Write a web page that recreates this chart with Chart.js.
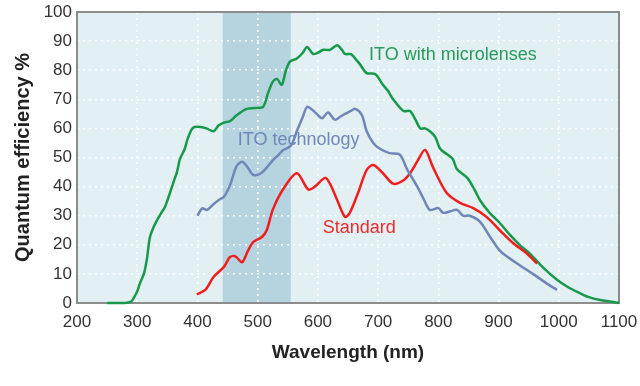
<!DOCTYPE html>
<html>
<head>
<meta charset="utf-8">
<script src="https://cdn.jsdelivr.net/npm/chart.js@4"></script>
<style>
  html, body { margin: 0; padding: 0; background: #fff; }
  #wrap { width: 640px; height: 386px; }
</style>
</head>
<body>
<div id="wrap"><canvas id="qe"></canvas></div>
<script>
// wavelength (nm) / quantum efficiency (%)
const microWl = [250, 280, 290, 295, 300, 305, 311, 316, 321, 327, 333, 340, 346, 353, 361, 366, 371, 379, 383, 390, 395, 405, 415, 427, 435, 444, 454, 465, 475, 482, 495, 509, 517, 525, 532, 540, 547, 554, 565, 575, 582, 592, 600, 609, 620, 632, 640, 645, 655, 662, 670, 681, 695, 708, 716, 725, 742, 753, 762, 770, 778, 786, 795, 803, 815, 824, 831, 848, 860, 869, 885, 902, 919, 935, 952, 975, 997, 1015, 1035, 1050, 1069, 1085, 1100];
const microQe = [0, 0, 0.5, 2, 4, 7, 10, 15, 22.5, 26, 28.5, 31, 33, 37, 42, 45, 49.5, 53, 56, 59.5, 60.5, 60.5, 60, 59, 61, 62, 62.5, 64.5, 66, 66.7, 67, 67.4, 72, 76, 77, 75, 80, 83, 84, 86, 88, 85.6, 86, 87, 87, 88.6, 87, 85.6, 85.5, 84, 82, 79, 78.7, 75, 73, 70, 66, 66, 63, 60, 60, 59, 57, 53, 51, 49.5, 46, 43, 39, 35.4, 31, 27.5, 23.4, 20, 17, 12, 8, 5.5, 3.4, 2, 1, 0.5, 0];

const itoWl = [400, 408, 416, 427, 436, 444, 454, 465, 474, 482, 493, 505, 515, 525, 535, 542, 555, 565, 575, 582, 590, 598, 607, 617, 628, 637, 645, 655, 662, 673, 681, 692, 703, 719, 736, 748, 765, 775, 786, 800, 808, 820, 831, 841, 852, 869, 885, 902, 914, 935, 957, 978, 997];
const itoQe = [30, 32.5, 32, 34, 35.5, 36.5, 40.5, 47, 48.5, 47, 44, 44.5, 46.5, 49, 51, 52.5, 54, 59, 64, 67.4, 66.5, 65, 63.5, 65.5, 63, 64, 65, 66, 66.7, 64.6, 59, 55, 53, 51.5, 51, 46, 40, 36, 32, 32.6, 31, 31.5, 32, 30, 30, 28, 23, 18, 16, 13, 10, 7, 4.5];

const stdWl = [399, 413, 427, 444, 454, 463, 474, 484, 493, 507, 515, 525, 542, 565, 584, 595, 612, 620, 632, 645, 653, 667, 681, 692, 708, 725, 741, 753, 766, 778, 791, 814, 836, 858, 880, 902, 924, 947, 964];
const stdQe = [3, 4.5, 9, 12.4, 15.8, 16, 14, 18, 21, 22.7, 25, 32, 39, 44.6, 39, 40, 43, 41, 35.4, 29.6, 31, 38, 45.7, 47.4, 44.6, 41, 42, 44.6, 49, 52.6, 46.7, 37.8, 34.4, 32.6, 29.6, 25, 20.6, 17, 13.5];

const xTicks = [200, 300, 400, 500, 600, 700, 800, 900, 1000, 1100];
const yTicks = [0, 10, 20, 30, 40, 50, 60, 70, 80, 90, 100];
const band = [442, 555];

const curveLabels = [
  { text: "ITO with microlenses", x: 685, y: 85.2, color: "#2a9a5c" },
  { text: "ITO technology", x: 467, y: 56, color: "#7088b8" },
  { text: "Standard", x: 608, y: 25.8, color: "#ee2a2a" }
];

const pts = (xs, ys) => xs.map((x, i) => ({ x: x, y: ys[i] }));

const plotDeco = {
  id: "plotDeco",
  beforeDraw(chart) {
    const { ctx, chartArea: a, scales: { x } } = chart;
    ctx.save();
    ctx.fillStyle = "#e2eff3";
    ctx.fillRect(a.left, a.top, a.right - a.left, a.bottom - a.top);
    ctx.fillStyle = "#b5d4e0";
    const b0 = x.getPixelForValue(band[0]), b1 = x.getPixelForValue(band[1]);
    ctx.fillRect(b0, a.top, b1 - b0, a.bottom - a.top);
    ctx.restore();
  },
  beforeDatasetsDraw(chart) {
    const { ctx, chartArea: a } = chart;
    ctx.save();
    ctx.strokeStyle = "#8c8c8c";
    ctx.lineWidth = 2;
    ctx.strokeRect(a.left, a.top, a.right - a.left, a.bottom - a.top);
    ctx.restore();
  },
  afterDatasetsDraw(chart) {
    const { ctx, scales: { x, y } } = chart;
    ctx.save();
    ctx.font = "18px 'Liberation Sans', Arial, sans-serif";
    ctx.textAlign = "left";
    ctx.textBaseline = "middle";
    curveLabels.forEach(l => {
      ctx.fillStyle = l.color;
      ctx.fillText(l.text, x.getPixelForValue(l.x), y.getPixelForValue(l.y));
    });
    ctx.restore();
  }
};

const lineSet = (data, color) => ({
  data: data,
  borderColor: color,
  borderWidth: 2.5,
  pointRadius: 0,
  tension: 0.3,
  fill: false,
  clip: 4
});

new Chart(document.getElementById("qe"), {
  type: "line",
  data: {
    datasets: [
      lineSet(pts(itoWl, itoQe), "#6f87b7"),
      lineSet(pts(stdWl, stdQe), "#f01e1e"),
      lineSet(pts(microWl, microQe), "#17994c")
    ]
  },
  options: {
    responsive: true,
    maintainAspectRatio: false,
    animation: false,
    layout: { padding: { top: 0, right: 0, left: 0, bottom: 22 } },
    plugins: { legend: { display: false }, tooltip: { enabled: false } },
    scales: {
      x: {
        type: "linear",
        min: 200,
        max: 1100,
        afterBuildTicks: s => { s.ticks = xTicks.map(v => ({ value: v })); },
        afterFit: s => { s.height = 61; s.paddingRight = 21; },
        ticks: {
          color: "#333",
          padding: 9,
          callback: v => String(v),
          font: { family: "'Liberation Sans', Arial, sans-serif", size: 17 }
        },
        grid: { color: "#ffffff", lineWidth: 1.6, drawTicks: false },
        border: { display: false, dash: [2, 4] },
        title: {
          display: true,
          text: "Wavelength (nm)",
          color: "#222",
          padding: { top: 0, bottom: 0 },
          font: { family: "'Liberation Sans', Arial, sans-serif", size: 19, weight: "bold" }
        }
      },
      y: {
        min: 0,
        max: 100,
        afterBuildTicks: s => { s.ticks = yTicks.map(v => ({ value: v })); },
        afterFit: s => { s.width = 77; s.paddingTop = 12; },
        ticks: {
          color: "#333",
          padding: 5,
          callback: v => String(v),
          font: { family: "'Liberation Sans', Arial, sans-serif", size: 17 }
        },
        grid: { color: "#ffffff", lineWidth: 1.6, drawTicks: false },
        border: { display: false, dash: [2, 4] },
        title: {
          display: true,
          text: "Quantum efficiency %",
          color: "#222",
          padding: { top: 11, bottom: 0 },
          font: { family: "'Liberation Sans', Arial, sans-serif", size: 20, weight: "bold" }
        }
      }
    }
  },
  plugins: [plotDeco]
});
</script>
</body>
</html>
